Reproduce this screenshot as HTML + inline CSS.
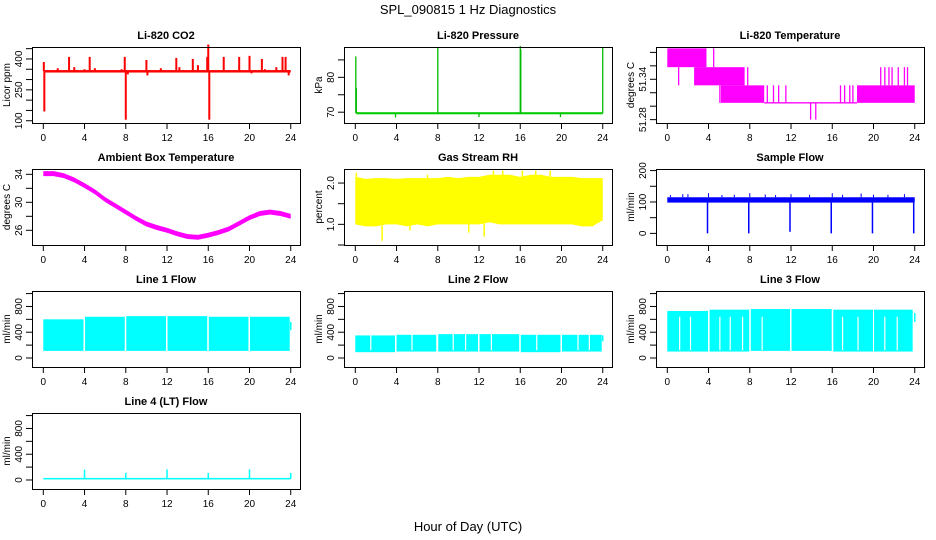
<!DOCTYPE html>
<html><head><meta charset="utf-8"><style>
html,body{margin:0;padding:0;background:#fff}
svg{display:block;font-family:"Liberation Sans",sans-serif}
</style></head><body>
<svg id="c" width="936" height="540" viewBox="0 0 936 540">
<text x="468" y="14" text-anchor="middle" font-size="13">SPL_090815  1 Hz Diagnostics</text>
<text x="468" y="531" text-anchor="middle" font-size="13">Hour of Day (UTC)</text>
</svg>
<script>
// ---- data ----
const xTicks = [0,4,8,12,16,20,24];
// CO2
const co2Base = 340;
const co2SpikeX = [0.05,0.1,1.4,2.5,3.0,4.0,4.5,5.0,6.2,7.6,7.9,8.0,8.2,10.0,10.1,11.4,12.9,13.2,14.5,15.0,15.9,16.0,16.1,17.5,18.0,19.0,20.0,20.2,21.2,21.5,22.6,23.2,23.5,23.8];
const co2SpikeV = [385,145,355,410,360,350,410,355,345,350,410,105,325,395,320,355,405,360,400,370,410,470,105,410,340,410,415,330,400,350,360,410,410,320];
// Pressure
const presBase = 69.7;
const presSpikeX = [0.05,0.1,3.9,8.0,12.0,16.0,16.05,19.9,24.0];
const presSpikeV = [86,77,68.5,88.5,68.6,89,88,68.6,88.5];
// Li-820 temperature (step bands)
const ltSegStart = [0,2.6,5.2,9.4,18.4];
const ltSegEnd   = [3.8,7.5,9.4,18.4,24];
const ltSegLo    = [51.358,51.331,51.305,51.304,51.305];
const ltSegHi    = [51.386,51.358,51.331,51.306,51.331];
const ltSpikeX  = [1.1,3.3,4.5,5.1,7.8,9.7,10.3,10.8,11.5,13.9,14.4,16.8,17.2,17.7,18.0,20.7,21.1,21.5,21.8,22.4,23.0,23.3];
const ltSpikeLo = [51.331,51.355,51.358,51.305,51.331,51.305,51.305,51.305,51.305,51.28,51.28,51.305,51.305,51.305,51.305,51.331,51.331,51.331,51.331,51.331,51.331,51.331];
const ltSpikeHi = [51.358,51.358,51.386,51.331,51.358,51.331,51.331,51.331,51.331,51.305,51.305,51.331,51.331,51.331,51.331,51.358,51.358,51.358,51.358,51.358,51.358,51.358];
// Ambient box temperature (hourly)
const ambHours = [0,1,2,3,4,5,6,7,8,9,10,11,12,13,14,15,16,17,18,19,20,21,22,23,24];
const ambTemp  = [34.1,34.1,33.8,33.2,32.4,31.5,30.4,29.5,28.6,27.7,26.9,26.4,26.0,25.5,25.1,25.0,25.3,25.7,26.2,27.0,27.8,28.4,28.6,28.4,28.0];
// Gas stream RH (hourly envelopes)
const rhHi = [2.15,2.1,2.12,2.12,2.1,2.12,2.12,2.12,2.12,2.15,2.12,2.15,2.15,2.2,2.2,2.2,2.15,2.2,2.2,2.15,2.15,2.15,2.12,2.12,2.12];
const rhLo = [1.0,0.95,0.95,1.0,1.0,0.95,1.0,0.95,1.0,1.0,1.0,1.0,1.0,1.05,1.0,1.0,1.0,1.0,1.0,1.0,1.0,1.0,0.95,0.95,1.1];
const rhSpikeX = [0.1,2.6,7.0,12.5,13.4,14.3,16.2,17.5,18.9,5.3,11.0];
const rhSpikeV = [2.25,0.6,2.2,0.7,2.3,2.3,2.3,2.3,2.3,0.85,0.8];
// Sample flow
const sfLo = 98, sfHi = 115;
const sfDropX = [3.9,7.9,11.9,15.9,19.9,23.9];
const sfDropV = [0,0,5,0,0,0];
const sfSpikeX = [0.3,1.5,2.0,4.0,5.3,6.5,8.0,9.5,10.5,12.0,13.8,16.0,17.0,18.8,20.0,21.4,23.0];
const sfSpikeV = [122,125,125,128,122,123,128,124,122,125,123,128,123,127,123,123,125];
// Line flows: segments between gaps
const l1Start = [0,4.05,8.05,12.05,16.05,20.05];
const l1End   = [3.9,7.9,11.9,15.9,19.9,23.9];
const l1Hi    = [600,640,650,650,640,640];
const l1Lo    = [110,110,110,110,110,110];
const l2Start = [0,4.0,8.05,12.05,16.05,20.05];
const l2End   = [3.85,7.85,11.9,15.9,19.9,23.9];
const l2Hi    = [350,360,370,370,360,360];
const l2Lo    = [90,100,100,100,90,100];
const l2GapX  = [1.5,5.5,9.5,10.7,13.2,17.6,21.6,22.7];
const l3Start = [0,4.1,8.1,12.05,16.1,20.05];
const l3End   = [3.95,7.95,11.9,15.95,19.95,23.8];
const l3Hi    = [730,750,760,760,750,750];
const l3Lo    = [100,100,110,110,100,100];
const l3GapX  = [1.2,2.25,5.1,6.1,7.3,9.2,17.0,18.5,21.1,22.3];
const l4Base = 20;
const l4SpikeX = [4.0,8.0,12.0,16.0,20.0,24.0];
const l4SpikeV = [160,110,165,110,165,110];

// ---- drawing ----
const svg = document.getElementById('c');
const NS = 'http://www.w3.org/2000/svg';
function mk(tag, attrs, parent){const e=document.createElementNS(NS,tag);for(const k in attrs)e.setAttribute(k,attrs[k]);(parent||svg).appendChild(e);return e;}

function panel(col,row,title,ylab,ydom,yTicks,yLabels,name){
  const bx=32+312*col, by=47+122*row, bw=268, bh=76;
  const g=mk('g',{});
  
  
  const X=h=>bx+11.3+h*10.31;
  const Y=v=>by+bh*(ydom[1]-v)/(ydom[1]-ydom[0]);
  const t=mk('text',{x:bx+bw/2,y:by-8,'text-anchor':'middle','font-size':11,'font-weight':'bold'},g);t.textContent=title;
  
  
  const data=mk('g',{},g);
  
  
  const ax=mk('g',{stroke:'#000','stroke-width':1,fill:'none'},g);
  
  
  mk('rect',{x:bx+.5,y:by+.5,width:bw,height:bh},ax);
  mk('line',{x1:X(0),x2:X(24),y1:by+bh+.5,y2:by+bh+.5},ax);
  xTicks.forEach(h=>{
    mk('line',{x1:X(h),x2:X(h),y1:by+bh,y2:by+bh+6},ax);
    const l=mk('text',{x:X(h),y:by+bh+18,'text-anchor':'middle','font-size':10},g);l.textContent=h;
    
    
  });
  mk('line',{x1:bx+.5,x2:bx+.5,y1:Y(yTicks[0]),y2:Y(yTicks[yTicks.length-1])},ax);
  yTicks.forEach(v=>mk('line',{x1:bx-6,x2:bx,y1:Y(v),y2:Y(v)},ax));
  yLabels.forEach(v=>{
    const l=mk('text',{x:0,y:0,'text-anchor':'middle','font-size':10,transform:`translate(${bx-10},${Y(v)}) rotate(-90)`},g);l.textContent=v;
    
    
  });
  const yl=mk('text',{x:0,y:0,'text-anchor':'middle','font-size':10,transform:`translate(${bx-22},${by+bh/2}) rotate(-90)`},g);yl.textContent=ylab;
  
  
  return {g:data,X,Y};
}
function vline(p,x,v1,v2,col,w){mk('line',{x1:p.X(x),x2:p.X(x),y1:p.Y(v1),y2:p.Y(v2),stroke:col,'stroke-width':w||1.2},p.g);}
function band(p,s,e,lo,hi,col){mk('rect',{x:p.X(s),y:p.Y(hi),width:p.X(e)-p.X(s),height:p.Y(lo)-p.Y(hi),fill:col},p.g);}
function rng(a,b,s){const r=[];for(let v=a;v<=b+1e-9;v+=s)r.push(+v.toFixed(4));return r;}

// CO2
let p=panel(0,0,'Li-820 CO2','Licor ppm',[89,458],rng(100,450,50),[100,250,400],'co2');
band(p,0.1,24,co2Base-6,co2Base+6,'#f00');
co2SpikeX.forEach((x,i)=>vline(p,x,co2Base,co2SpikeV[i],'#f00',2));
// Pressure
p=panel(1,0,'Li-820 Pressure','kPa',[66.9,88.7],[70,75,80,85],[70,80],'pressure');
band(p,0.1,24,presBase-0.3,presBase+0.3,'#0c0');
presSpikeX.forEach((x,i)=>vline(p,x,presBase,presSpikeV[i],'#0b0',1.3));
// Li-820 temp
p=panel(2,0,'Li-820 Temperature','degrees C',[51.275,51.388],[51.28,51.30,51.32,51.34,51.36,51.38],['51.28','51.34'],'licor-temperature');
ltSegStart.forEach((s,i)=>band(p,s,ltSegEnd[i],ltSegLo[i],ltSegHi[i],'#f0f'));
ltSpikeX.forEach((x,i)=>vline(p,x,ltSpikeLo[i],ltSpikeHi[i],'#f0f',1.3));
// Ambient
p=panel(0,1,'Ambient Box Temperature','degrees C',[23.9,34.76],[26,28,30,32,34],[26,30,34],'ambient-temperature');
{let up=ambHours.map((h,i)=>p.X(h)+','+p.Y(ambTemp[i]+0.35)).join(' ');let dn=ambHours.slice().reverse().map((h,i)=>p.X(h)+','+p.Y(ambTemp[ambTemp.length-1-i]-0.35)).join(' ');
mk('polygon',{points:up+' '+dn,fill:'#f0f'},p.g);}
// RH
p=panel(1,1,'Gas Stream RH','percent',[0.5,2.34],[0.5,1.0,1.5,2.0],['1.0','2.0'],'gas-stream-rh');
{let up=ambHours.map((h,i)=>p.X(h)+','+p.Y(rhHi[i])).join(' ');let dn=ambHours.slice().reverse().map((h,i)=>p.X(h)+','+p.Y(rhLo[rhLo.length-1-i])).join(' ');
mk('polygon',{points:up+' '+dn,fill:'#ff0'},p.g);}
rhSpikeX.forEach((x,i)=>vline(p,x,1.5,rhSpikeV[i],'#ff0',1.5));
// Sample flow
p=panel(2,1,'Sample Flow','ml/min',[-37,205],[0,50,100,150,200],[0,100,200],'sample-flow');
band(p,0,24,sfLo,sfHi,'#00f');
sfDropX.forEach((x,i)=>vline(p,x,sfLo,sfDropV[i],'#00f',1.5));
sfSpikeX.forEach((x,i)=>vline(p,x,sfHi,sfSpikeV[i],'#00f',1));
// Line flows
const fd=[-140,1040], ft=[0,200,400,600,800,1000], fl=[0,400,800];
p=panel(0,2,'Line 1 Flow','ml/min',fd,ft,fl,'line1-flow');
l1Start.forEach((s,i)=>band(p,s,l1End[i],l1Lo[i],l1Hi[i],'#0ff'));
vline(p,24,430,560,'#0ff',1.5);
p=panel(1,2,'Line 2 Flow','ml/min',fd,ft,fl,'line2-flow');
l2Start.forEach((s,i)=>band(p,s,l2End[i],l2Lo[i],l2Hi[i],'#0ff'));
l2GapX.forEach(x=>vline(p,x,120,380,'#fff',1.2));
vline(p,24,260,350,'#0ff',1.5);
p=panel(2,2,'Line 3 Flow','ml/min',fd,ft,fl,'line3-flow');
l3Start.forEach((s,i)=>band(p,s,l3End[i],l3Lo[i],l3Hi[i],'#0ff'));
l3GapX.forEach(x=>vline(p,x,120,640,'#fff',1.2));
vline(p,24,560,700,'#0ff',1.5);
p=panel(0,3,'Line 4 (LT) Flow','ml/min',fd,ft,fl,'line4-flow');
band(p,0,24,l4Base-12,l4Base+12,'#0ff');
l4SpikeX.forEach((x,i)=>vline(p,x,l4Base,l4SpikeV[i],'#0ff',1.5));
</script>
</body></html>
